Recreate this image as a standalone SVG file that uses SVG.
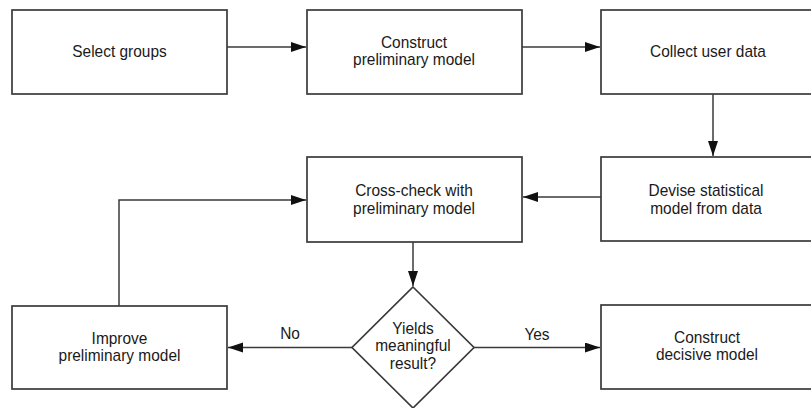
<svg xmlns="http://www.w3.org/2000/svg" width="811" height="408" viewBox="0 0 811 408">
<style>
.box{fill:#fff;stroke:#3a3a3a;stroke-width:1.7}
.t{font-family:"Liberation Sans",Arial,sans-serif;font-size:16.8px;fill:#1a1a1a;text-anchor:middle;transform-box:fill-box;transform-origin:center;transform:scaleX(0.92)}
.c{fill:none;stroke:#3a3a3a;stroke-width:1.5}
</style>
<defs>
<marker id="ah" markerUnits="userSpaceOnUse" markerWidth="16" markerHeight="12" refX="15" refY="5" orient="auto">
<path d="M0,0 L15,5 L0,10 z" fill="#111"/>
</marker>
</defs>
<rect width="811" height="408" fill="#fff"/>
<g id="connectors">
<path class="c" d="M227,47 H306" marker-end="url(#ah)"/>
<path class="c" d="M522,47 H600" marker-end="url(#ah)"/>
<path class="c" d="M713,94 V156" marker-end="url(#ah)"/>
<path class="c" d="M601,197 H523" marker-end="url(#ah)"/>
<path class="c" d="M413,242 V286" marker-end="url(#ah)"/>
<path class="c" d="M352,347.5 H228" marker-end="url(#ah)"/>
<path class="c" d="M474,347.5 H600" marker-end="url(#ah)"/>
<path class="c" d="M119,306 V200 H306" marker-end="url(#ah)"/>
<text class="t" x="290" y="339">No</text>
<text class="t" x="537" y="340">Yes</text>
</g>
<g id="select-groups">
<rect class="box" x="12" y="10" width="215" height="84"/>
<text class="t" x="119.5" y="57.5">Select groups</text>
</g>
<g id="construct-preliminary">
<rect class="box" x="307" y="10" width="215" height="84"/>
<text class="t" x="414" y="48">Construct</text>
<text class="t" x="414" y="65.5">preliminary model</text>
</g>
<g id="collect-user-data">
<rect class="box" x="601" y="10" width="220" height="84"/>
<text class="t" x="708" y="57.5">Collect user data</text>
</g>
<g id="devise">
<rect class="box" x="601" y="157" width="220" height="84"/>
<text class="t" x="706" y="196.5">Devise statistical</text>
<text class="t" x="706" y="214">model from data</text>
</g>
<g id="cross-check">
<rect class="box" x="307" y="157" width="215" height="85"/>
<text class="t" x="414" y="196.5">Cross-check with</text>
<text class="t" x="414" y="214">preliminary model</text>
</g>
<g id="decision">
<path class="box" d="M413,287 L474,347.5 L413,408 L352,347.5 Z"/>
<text class="t" x="413" y="334">Yields</text>
<text class="t" x="413" y="351.5">meaningful</text>
<text class="t" x="413" y="369">result?</text>
</g>
<g id="improve">
<rect class="box" x="12" y="306" width="215" height="83"/>
<text class="t" x="119.5" y="344">Improve</text>
<text class="t" x="119.5" y="361.5">preliminary model</text>
</g>
<g id="construct-decisive">
<rect class="box" x="601" y="305" width="220" height="84"/>
<text class="t" x="707" y="343">Construct</text>
<text class="t" x="707" y="360.5">decisive model</text>
</g>
</svg>
